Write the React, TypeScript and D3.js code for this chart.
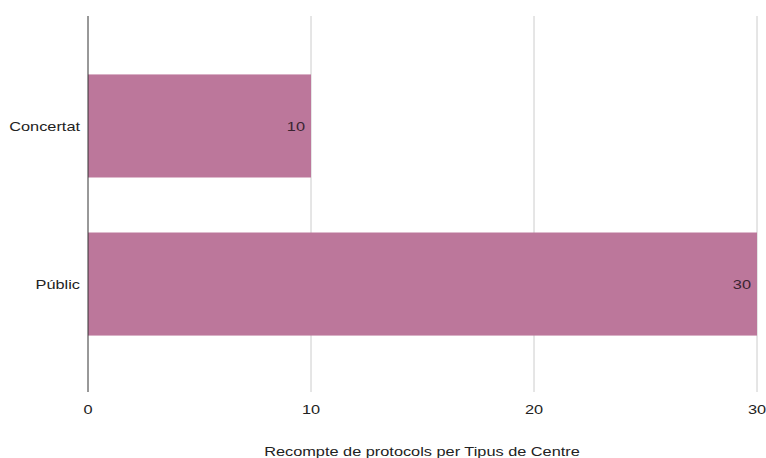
import React from "react";
import * as d3 from "d3";

const categories = ["Concertat", "Públic"];
const values = [10, 30];
const xTicks = [0, 10, 20, 30];
const title = "Recompte de protocols per Tipus de Centre";

export default function App() {
  const W = 766, H = 458;
  const x = d3.scaleLinear().domain([0, 30]).range([88, 757]);
  const y = d3.scaleBand<string>().domain(categories).range([18, 392]).paddingInner(0.348).paddingOuter(0.357);
  const font = "'Liberation Sans', Arial, sans-serif";
  const sx = 1.21;
  const T = (props: { x: number; y: number; anchor: string; fill?: string; children: React.ReactNode }) => (
    <text
      transform={`translate(${props.x},${props.y}) scale(${sx},1)`}
      dy="0.35em"
      textAnchor={props.anchor}
      fontFamily={font}
      fontSize={13.5}
      fill={props.fill ?? "#222"}
    >
      {props.children}
    </text>
  );
  return (
    <svg width={W} height={H} style={{ position: "absolute", left: 0, top: 0 }}>
      <rect width={W} height={H} fill="#fff" />
      {xTicks.slice(1).map((t) => (
        <line key={t} x1={x(t)} x2={x(t)} y1={16} y2={392} stroke="#cccccc" strokeWidth={1} />
      ))}
      {categories.map((c, i) => (
        <g key={c}>
          <rect x={x(0)} y={y(c)!} width={x(values[i]) - x(0)} height={y.bandwidth()} fill="#bc779b" />
          <T x={x(values[i]) - 6} y={y(c)! + y.bandwidth() / 2} anchor="end" fill="#3a2431">
            {values[i]}
          </T>
          <T x={80} y={y(c)! + y.bandwidth() / 2} anchor="end">
            {c}
          </T>
        </g>
      ))}
      <line x1={x(0)} x2={x(0)} y1={16} y2={392} stroke="#333" strokeWidth={1} />
      {xTicks.map((t) => (
        <T key={t} x={x(t)} y={409} anchor="middle">
          {t}
        </T>
      ))}
      <T x={422} y={451} anchor="middle">
        {title}
      </T>
    </svg>
  );
}
